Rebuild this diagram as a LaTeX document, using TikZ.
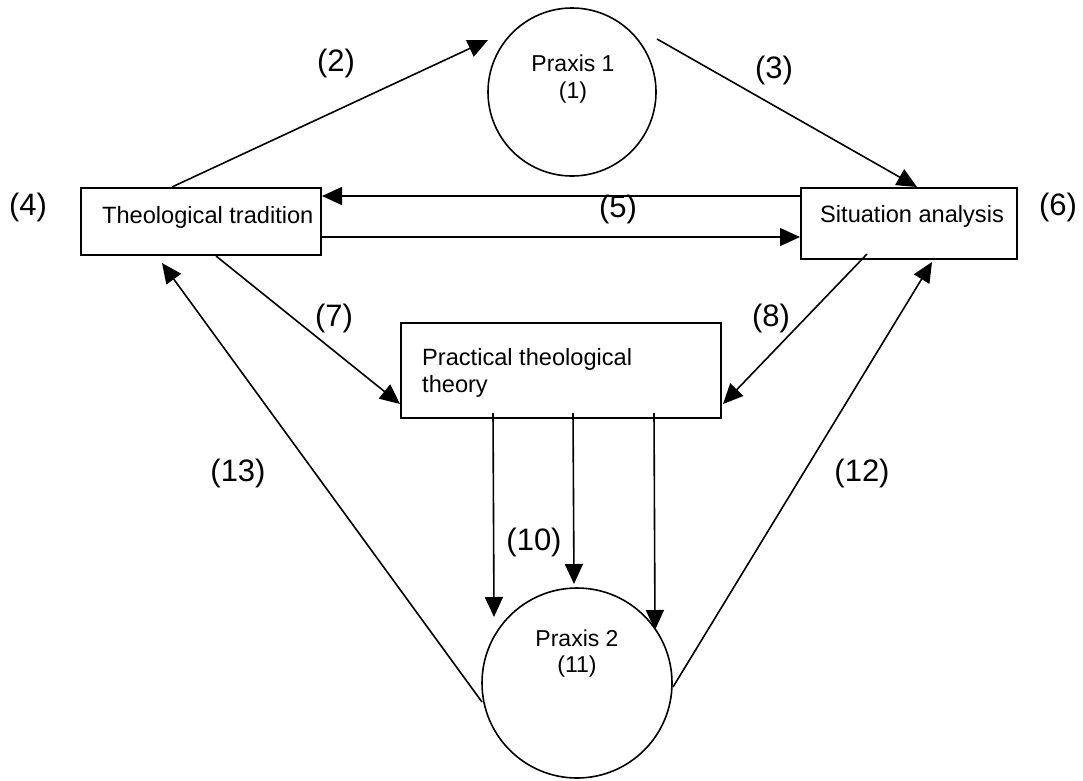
\documentclass[tikz,border=0pt]{standalone}
\usepackage{fontspec}
\setmainfont{Liberation Sans}
\usetikzlibrary{arrows.meta,calc}
\begin{document}
\begin{tikzpicture}[x=1pt,y=-1pt,
  box/.style={draw, line width=2pt, inner sep=0pt},
  circ/.style={draw, circle, line width=1.6pt, inner sep=0pt},
  conn/.style={line width=1.6pt, -{Triangle[length=20pt,width=18pt]}},
  lbl/.style={font=\fontsize{31}{36}\selectfont, inner sep=0pt},
  txt/.style={font=\fontsize{23.6}{27}\selectfont, inner sep=0pt},
  ptxt/.style={font=\fontsize{23}{27}\selectfont, inner sep=0pt}]
\useasboundingbox (0,0) rectangle (1083,780);
\fill[white] (0,0) rectangle (1083,780);

% boxes
\node[box, minimum width=240pt, minimum height=67pt] (tt) at (201,221.5) {};
\node[box, minimum width=216pt, minimum height=71pt] (sa) at (909,223.5) {};
\node[box, minimum width=320pt, minimum height=95pt] (ptt) at (561,370.5) {};
\node[txt, anchor=base west] (ttt) at (102,223) {Theological tradition};
\node[txt, anchor=base west] (sat) at (820,222) {Situation analysis};
\node[txt, anchor=base west] (ptt1) at (422,365) {Practical theological};
\node[txt, anchor=base west] (ptt2) at (422,392) {theory};

% circles
\node[circ, minimum size=168pt] (p1) at (572,92) {};
\node[circ, minimum size=190pt] (p2) at (577,683) {};
\node[ptxt, anchor=base] (p1a) at (573,71) {Praxis 1};
\node[ptxt, anchor=base] (p1b) at (573,98) {(1)};
\node[ptxt, anchor=base] (p2a) at (577,646) {Praxis 2};
\node[ptxt, anchor=base] (p2b) at (577,672) {(11)};

% labels
\node[lbl] (l2) at (336,63) {(2)};
\node[lbl] (l3) at (774,70) {(3)};
\node[lbl] (l4) at (28,207) {(4)};
\node[lbl] (l5) at (618,209) {(5)};
\node[lbl] (l6) at (1058,207) {(6)};
\node[lbl] (l7) at (334,318) {(7)};
\node[lbl] (l8) at (771,318) {(8)};
\node[lbl] (l10) at (534,542) {(10)};
\node[lbl] (l12) at (862,473) {(12)};
\node[lbl] (l13) at (238,473) {(13)};

% connectors
\draw[conn] ($(tt.north west)+(92,0)$) -- ($(p1.center)+(-84,-52)$);
\draw[conn] ($(p1.center)+(85,-53)$) -- ($(sa.north west)+(117,0)$);
\draw[conn] ($(sa.north west)+(0,9)$) -- ($(tt.north east)+(0,9)$);
\draw[conn] ($(tt.north east)+(0,50)$) -- ($(sa.north west)+(0,50)$);
\draw[conn] ($(tt.south west)+(136,0)$) -- ($(ptt.south west)+(0,-15)$);
\draw[conn] ($(sa.south west)+(67,-6)$) -- ($(ptt.south east)+(1,-15)$);
\draw[conn] ($(ptt.south west)+(93,-6)$) -- ($(p2.center)+(-83,-66)$);
\draw[conn] ($(ptt.south west)+(173,-6)$) -- ($(p2.center)+(-3,-99)$);
\draw[conn] ($(ptt.south west)+(254,-6)$) -- ($(p2.center)+(78,-53)$);
\draw[conn] ($(p2.center)+(96,4)$) -- ($(sa.south west)+(132,2)$);
\draw[conn] ($(p2.center)+(-95,19)$) -- ($(tt.south west)+(82,7)$);
\end{tikzpicture}
\end{document}
